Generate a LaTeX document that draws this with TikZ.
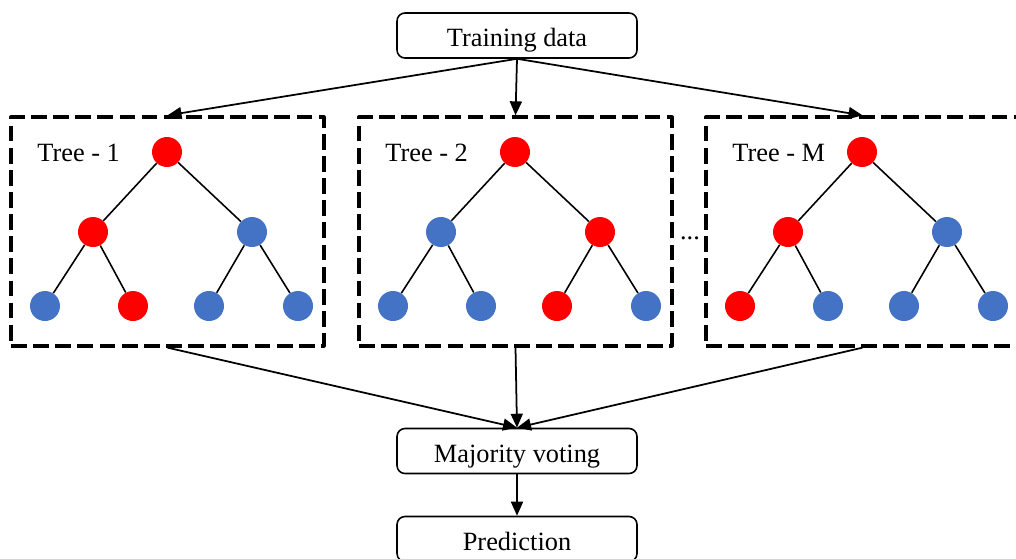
\documentclass[tikz,border=0pt]{standalone}
\usepackage{fontspec}
\setmainfont{Liberation Serif}
\usetikzlibrary{arrows.meta}
\definecolor{treered}{RGB}{255,0,0}
\definecolor{treeblue}{RGB}{68,114,196}
\tikzset{
  stepbox/.style={draw,rounded corners=4.5pt,line width=0.9pt,minimum width=4.8cm,minimum height=0.9cm,
    text height=13pt,text depth=0pt,font=\fontsize{15}{18}\selectfont},
  treebox/.style={draw,dash pattern=on 9pt off 3.6pt,line width=1.9pt,minimum width=6.26cm,minimum height=4.58cm},
  leaf/.style={circle,fill=#1,minimum size=0.6cm,inner sep=0pt},
  arr/.style={-{Triangle[length=2.8mm,width=2.4mm]},line width=1pt},
}
\begin{document}
\begin{tikzpicture}[x=0.02cm,y=-0.02cm,line join=round]
  \useasboundingbox (0,0) rectangle (1016,558);
  \node[stepbox] (td) at (517,35.5) {Training data};
  \node[stepbox] (mv) at (517,451) {Majority voting};
  \node[stepbox] (pr) at (517,539) {Prediction};
  \foreach \k/\dx/\lab/\cl/\cr/\ca/\cb/\cc/\cd in {%
      1/0/Tree - 1/treered/treeblue/treeblue/treered/treeblue/treeblue,%
      2/348/Tree - 2/treeblue/treered/treeblue/treeblue/treered/treeblue,%
      3/695/Tree - M/treered/treeblue/treered/treeblue/treeblue/treeblue} {
    \node[treebox] (box\k) at ({167.5+\dx},231.5) {};
    \node[anchor=west,inner sep=0pt,font=\fontsize{15}{18}\selectfont] (lab\k) at ({37+\dx},153) {\lab};
    \node[leaf=treered] (r\k) at ({167+\dx},152) {};
    \node[leaf=\cl] (a\k) at ({93+\dx},232) {};
    \node[leaf=\cr] (b\k) at ({252+\dx},232) {};
    \node[leaf=\ca] (aa\k) at ({45+\dx},306) {};
    \node[leaf=\cb] (ab\k) at ({133+\dx},306) {};
    \node[leaf=\cc] (ba\k) at ({209+\dx},306) {};
    \node[leaf=\cd] (bb\k) at ({298+\dx},306) {};
    \draw[line width=0.9pt] (r\k) -- (a\k) (r\k) -- (b\k)
      (a\k) -- (aa\k) (a\k) -- (ab\k) (b\k) -- (ba\k) (b\k) -- (bb\k);
    \draw[arr] (td.south) -- (box\k.north);
    \draw[arr] (box\k.south) -- (mv.north);
  }
  \node[font=\fontsize{15}{18}\selectfont,inner sep=0pt] (dots) at (690,238) {...};
  \draw[arr] (mv) -- (pr);
\end{tikzpicture}
\end{document}
